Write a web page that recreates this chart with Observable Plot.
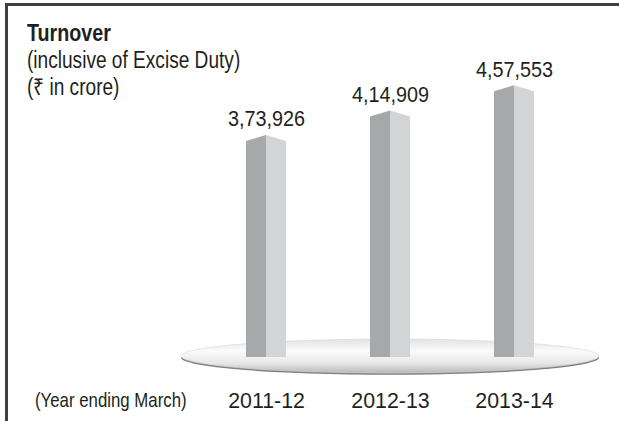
<!DOCTYPE html>
<html><head><meta charset="utf-8">
<script src="https://cdn.jsdelivr.net/npm/d3@7"></script>
<script src="https://cdn.jsdelivr.net/npm/@observablehq/plot@0.6"></script>
<style>
body{margin:0;background:#fff;}
#wrap{position:relative;width:619px;height:421px;overflow:hidden;font-family:"Liberation Sans",Arial,sans-serif;color:#231f20;}
#frame{position:absolute;left:5px;top:3px;width:640px;height:440px;border-top:3px solid #404040;border-left:3px solid #404040;}
.t{position:absolute;left:27px;white-space:nowrap;line-height:1;transform-origin:0 0;}
#chart{position:absolute;left:0;top:0;}
</style></head><body>
<div id="wrap">
<div id="frame"></div>
<div id="chart"></div>
<div class="t" style="top:20.7px;font-size:24px;font-weight:bold;transform:scaleX(0.82);">Turnover</div>
<div class="t" style="top:48.5px;font-size:23px;transform:scaleX(0.83);">(inclusive of Excise Duty)</div>
<div class="t" style="top:75.5px;font-size:23px;transform:scaleX(0.83);">(₹ in crore)</div>
<div class="t" style="top:389px;left:35px;font-size:21px;transform:scaleX(0.8);">(Year ending March)</div>
</div>
<script>
const years = ["2011-12", "2012-13", "2013-14"];
const turnover = [373926, 414909, 457553];
const valueLabels = ["3,73,926", "4,14,909", "4,57,553"];
const data = years.map((year, i) => ({year, value: turnover[i], label: valueLabels[i]}));

function platform(index, scales) {
  const x = scales.x, y = scales.y;
  const g = d3.create("svg:g");
  const defs = g.append("defs");
  const grad = defs.append("linearGradient").attr("id", "plat").attr("x1", 0).attr("y1", 0).attr("x2", 0).attr("y2", 1);
  [["0%", "#e2e2e2"], ["35%", "#fbfbfb"], ["72%", "#e6e6e6"], ["100%", "#b8b8b8"]].forEach(([o, c]) =>
    grad.append("stop").attr("offset", o).attr("stop-color", c));
  const cx = (x(years[0]) + x(years[years.length - 1])) / 2;
  const rx = (x(years[years.length - 1]) - x(years[0])) / 2 + 85;
  const cy = y(0) - 1, ry = 17;
  g.append("ellipse").attr("cx", cx).attr("cy", cy + 1.8).attr("rx", rx).attr("ry", ry).attr("fill", "#808080");
  g.append("ellipse").attr("cx", cx).attr("cy", cy).attr("rx", rx).attr("ry", ry).attr("fill", "url(#plat)").attr("stroke", "#d6d6d6").attr("stroke-width", 0.6);
  return g.node();
}

function bars(index, scales) {
  const x = scales.x, y = scales.y;
  const g = d3.create("svg:g");
  const hw = 20, rise = 6;
  data.forEach(d => {
    const cx = x(d.year), top = y(d.value), base = y(0);
    g.append("path").attr("fill", "#a7a8aa").attr("d", `M${cx - hw},${base}V${top + rise}L${cx},${top}V${base}Z`);
    g.append("path").attr("fill", "#d3d4d6").attr("d", `M${cx},${base}V${top}L${cx + hw},${top + rise}V${base}Z`);
  });
  return g.node();
}

const chart = Plot.plot({
  width: 619,
  height: 421,
  marginLeft: 203,
  marginRight: 43,
  marginTop: 60,
  marginBottom: 64,
  x: {type: "point", domain: years, padding: 0.5, tickSize: 0, tickPadding: 35, label: null},
  y: {domain: [0, 500000], axis: null},
  style: {fontFamily: '"Liberation Sans",Arial,sans-serif', fontSize: "22px", color: "#231f20", background: "transparent", overflow: "visible"},
  marks: [
    platform,
    bars,
    Plot.text(data, {x: "year", y: "value", text: "label", lineAnchor: "bottom", dy: -9, fontSize: 22, fill: "#231f20"})
  ]
});
document.getElementById("chart").appendChild(chart);
// condense the SVG text to mimic a condensed typeface
chart.querySelectorAll("text").forEach(t => {
  const len = t.getComputedTextLength();
  if (len > 0) {
    const isAxis = !!t.closest('[aria-label^="x-axis"]');
    t.setAttribute("textLength", len * (isAxis ? 0.97 : 0.9));
    t.setAttribute("lengthAdjust", "spacingAndGlyphs");
  }
});
</script>
</body></html>
